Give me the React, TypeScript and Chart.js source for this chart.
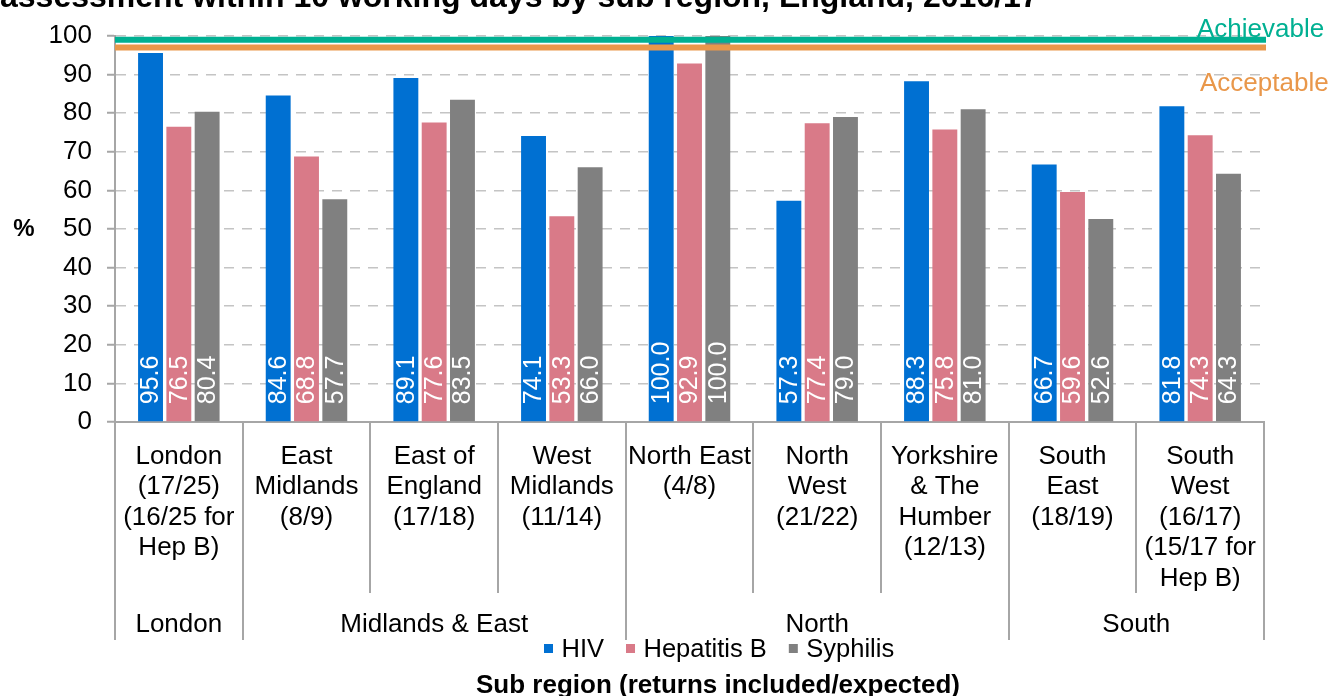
import React, { useEffect, useRef } from 'react';
import { Chart, registerables } from 'chart.js';

Chart.register(...registerables);

const FONT = '"Liberation Sans", Arial, Helvetica, sans-serif';

const subRegions: string[][] = [
  ['London', '(17/25)', '(16/25 for', 'Hep B)'],
  ['East', 'Midlands', '(8/9)'],
  ['East of', 'England', '(17/18)'],
  ['West', 'Midlands', '(11/14)'],
  ['North East', '(4/8)'],
  ['North', 'West', '(21/22)'],
  ['Yorkshire', '& The', 'Humber', '(12/13)'],
  ['South', 'East', '(18/19)'],
  ['South', 'West', '(16/17)', '(15/17 for', 'Hep B)'],
];
const regionGroups = ['London', 'Midlands & East', 'North', 'South'];
const regionGroupSizes = [1, 3, 3, 2];

const seriesNames = ['HIV', 'Hepatitis B', 'Syphilis'];
const hivValues = [95.6, 84.6, 89.1, 74.1, 100.0, 57.3, 88.3, 66.7, 81.8];
const hepBValues = [76.5, 68.8, 77.6, 53.3, 92.9, 77.4, 75.8, 59.6, 74.3];
const syphilisValues = [80.4, 57.7, 83.5, 66.0, 100.0, 79.0, 81.0, 52.6, 64.3];

const achievableLevel = 99;
const acceptableLevel = 97;
const achievableLabel = 'Achievable';
const acceptableLabel = 'Acceptable';

const yMin = 0;
const yMax = 100;
const yStep = 10;

const chartTitle = 'assessment within 10 working days by sub region, England, 2016/17';
const xAxisTitle = 'Sub region (returns included/expected)';
const yAxisTitle = '%';

const COLORS = {
  hiv: '#0070D2',
  hepB: '#D97A88',
  syphilis: '#808080',
  achievable: '#00B092',
  acceptable: '#E9974A',
  axis: '#A6A6A6',
  grid: '#C4C4C4',
};

const overlayPlugin = {
  id: 'overlay',
  afterDatasetsDraw(chart: any) {
    const { ctx, chartArea } = chart;
    const yScale = chart.scales.y;
    ctx.save();
    // data labels
    ctx.font = `25px ${FONT}`;
    ctx.fillStyle = '#ffffff';
    ctx.textAlign = 'left';
    ctx.textBaseline = 'middle';
    chart.data.datasets.forEach((ds: any, di: number) => {
      const meta = chart.getDatasetMeta(di);
      meta.data.forEach((bar: any, i: number) => {
        const v = ds.data[i];
        ctx.save();
        ctx.translate(bar.x, bar.base - 17);
        ctx.rotate(-Math.PI / 2);
        ctx.fillText(Number(v).toFixed(1), 0, 1);
        ctx.restore();
      });
    });
    // target lines
    const drawLevel = (v: number, color: string) => {
      const py = yScale.getPixelForValue(v);
      ctx.strokeStyle = color;
      ctx.lineWidth = 6;
      ctx.beginPath();
      ctx.moveTo(chartArea.left, py);
      ctx.lineTo(chartArea.right + 2, py);
      ctx.stroke();
    };
    drawLevel(achievableLevel, COLORS.achievable);
    drawLevel(acceptableLevel, COLORS.acceptable);
    ctx.restore();
  },
  afterDraw(chart: any) {
    const { ctx, chartArea } = chart;
    const xs = chart.scales.x;
    const n = chart.data.labels.length;
    const w = (xs.right - xs.left) / n;
    const top = xs.top;
    ctx.save();

    // separators
    const groupBounds = new Set<number>();
    let acc = 0;
    groupBounds.add(0);
    regionGroupSizes.forEach((s) => {
      acc += s;
      groupBounds.add(acc);
    });
    ctx.strokeStyle = COLORS.axis;
    ctx.lineWidth = 2;
    for (let i = 0; i <= n; i++) {
      const x = Math.round(xs.left + i * w);
      const bottom = groupBounds.has(i) ? top + 218 : top + 171;
      ctx.beginPath();
      ctx.moveTo(x, top);
      ctx.lineTo(x, bottom);
      ctx.stroke();
    }

    // category labels
    ctx.fillStyle = '#000000';
    ctx.font = `26px ${FONT}`;
    ctx.textAlign = 'center';
    ctx.textBaseline = 'alphabetic';
    chart.data.labels.forEach((lab: string[], i: number) => {
      const cx = xs.getPixelForValue(i);
      lab.forEach((line, j) => {
        ctx.fillText(line, cx, top + 41.5 + j * 30.5);
      });
    });

    // group labels
    let start = 0;
    regionGroups.forEach((g, gi) => {
      const size = regionGroupSizes[gi];
      const cx = xs.left + (start + size / 2) * w;
      ctx.fillText(g, cx, top + 209.7);
      start += size;
    });

    // legend
    const legendColors = [COLORS.hiv, COLORS.hepB, COLORS.syphilis];
    let lx = 544;
    ctx.font = `25.5px ${FONT}`;
    ctx.textAlign = 'left';
    seriesNames.forEach((name, i) => {
      ctx.fillStyle = legendColors[i];
      ctx.fillRect(lx, 644, 9, 9);
      ctx.fillStyle = '#000000';
      ctx.fillText(name, lx + 17.5, 657);
      lx = lx + 17.5 + ctx.measureText(name).width + 22;
    });

    // x axis title
    ctx.font = `bold 26px ${FONT}`;
    ctx.textAlign = 'center';
    ctx.fillText(xAxisTitle, 718, 693);

    // y axis title
    ctx.font = `bold 24px ${FONT}`;
    ctx.textBaseline = 'middle';
    ctx.fillText(yAxisTitle, 24, (chartArea.top + chartArea.bottom) / 2);

    // chart title (cut at top)
    ctx.font = `bold 32px ${FONT}`;
    ctx.textAlign = 'left';
    ctx.textBaseline = 'alphabetic';
    ctx.fillText(chartTitle, 0, 7);

    // level labels
    ctx.font = `26px ${FONT}`;
    ctx.textAlign = 'left';
    ctx.fillStyle = COLORS.achievable;
    ctx.fillText(achievableLabel, 1197, 37);
    ctx.fillStyle = COLORS.acceptable;
    ctx.fillText(acceptableLabel, 1200, 91);

    ctx.restore();
  },
};

export default function App() {
  const canvasRef = useRef<HTMLCanvasElement | null>(null);

  useEffect(() => {
    if (!canvasRef.current) return;
    const chart = new Chart(canvasRef.current, {
      type: 'bar',
      data: {
        labels: subRegions,
        datasets: [
          { label: seriesNames[0], data: hivValues, backgroundColor: COLORS.hiv, borderWidth: 0 },
          { label: seriesNames[1], data: hepBValues, backgroundColor: COLORS.hepB, borderWidth: 0 },
          { label: seriesNames[2], data: syphilisValues, backgroundColor: COLORS.syphilis, borderWidth: 0 },
        ],
      },
      options: {
        responsive: false,
        animation: false,
        devicePixelRatio: 1,
        layout: { padding: { left: 0, right: 68, top: 36, bottom: 0 } },
        datasets: {
          bar: { categoryPercentage: 0.665, barPercentage: 0.88 },
        },
        plugins: {
          legend: { display: false },
          title: { display: false },
          tooltip: { enabled: false },
        },
        scales: {
          x: {
            type: 'category',
            offset: true,
            grid: { display: false },
            border: { display: true, color: COLORS.axis, width: 2 },
            ticks: { display: false },
            afterFit: (scale: any) => {
              scale.height = 274;
            },
          },
          y: {
            min: yMin,
            max: yMax,
            ticks: {
              stepSize: yStep,
              color: '#000000',
              font: { family: FONT, size: 26 },
              padding: 15,
            },
            grid: {
              color: COLORS.grid,
              lineWidth: 1.5,
              tickLength: 8,
              tickColor: COLORS.axis,
              tickWidth: 2,
            },
            border: { display: true, color: COLORS.axis, width: 2, dash: [10, 8] },
            afterFit: (scale: any) => {
              scale.width = 115;
            },
          },
        },
      },
      plugins: [overlayPlugin],
    } as any);
    return () => chart.destroy();
  }, []);

  return (
    <div style={{ position: 'fixed', left: 0, top: 0, width: 1332, height: 696, background: '#ffffff' }}>
      <canvas ref={canvasRef} width={1332} height={696} style={{ display: 'block' }} />
    </div>
  );
}
